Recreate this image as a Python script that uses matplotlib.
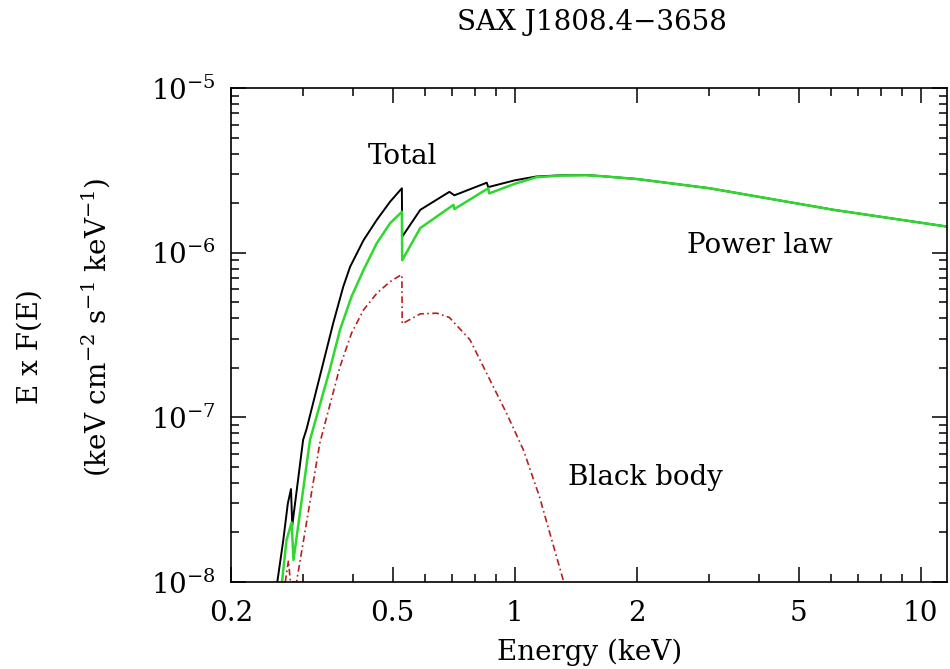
import matplotlib
matplotlib.use("Agg")
import matplotlib.pyplot as plt
from matplotlib.ticker import FixedLocator, LogLocator, NullFormatter

plt.rcParams['font.family'] = ['DejaVu Serif']
plt.rcParams['mathtext.fontset'] = 'dejavuserif'

# values (energy in keV, E x F(E))
total_e = [0.260, 0.269, 0.276, 0.281, 0.283, 0.301, 0.307, 0.334, 0.357, 0.378,
           0.393, 0.424, 0.457, 0.493, 0.527, 0.528, 0.585, 0.690, 0.710, 0.853,
           0.860, 1.00, 1.13, 1.30, 1.50, 1.62, 2.0, 3.02, 6.1, 11.6]
total_f = [1.0e-8, 1.8e-8, 3.0e-8, 3.67e-8, 2.2e-8, 7.3e-8, 8.5e-8, 1.94e-7, 3.73e-7, 6.22e-7,
           8.22e-7, 1.19e-6, 1.58e-6, 2.04e-6, 2.46e-6, 1.25e-6, 1.82e-6, 2.34e-6, 2.23e-6, 2.66e-6,
           2.50e-6, 2.75e-6, 2.90e-6, 2.95e-6, 2.96e-6, 2.92e-6, 2.80e-6, 2.46e-6, 1.82e-6, 1.44e-6]

pl_e = [0.267, 0.274, 0.282, 0.285, 0.313, 0.350, 0.371, 0.396, 0.424, 0.457,
        0.493, 0.527, 0.528, 0.585, 0.706, 0.710, 0.860, 0.865, 1.00, 1.13,
        1.30, 1.50, 1.62, 2.0, 3.02, 6.1, 11.6]
pl_f = [1.0e-8, 1.8e-8, 2.3e-8, 1.36e-8, 7.3e-8, 1.94e-7, 3.4e-7, 5.4e-7, 7.85e-7, 1.14e-6,
        1.51e-6, 1.77e-6, 9.0e-7, 1.41e-6, 1.95e-6, 1.84e-6, 2.46e-6, 2.29e-6, 2.62e-6, 2.87e-6,
        2.94e-6, 2.95e-6, 2.92e-6, 2.80e-6, 2.46e-6, 1.82e-6, 1.44e-6]

bb_e = [0.272, 0.277, 0.280, 0.290, 0.331, 0.371, 0.396, 0.424, 0.457, 0.493,
        0.520, 0.527, 0.528, 0.585, 0.643, 0.690, 0.776, 0.860, 0.954, 1.05,
        1.15, 1.32]
bb_f = [1.0e-8, 1.35e-8, 1.0e-8, 1.0e-8, 7.0e-8, 2.03e-7, 3.24e-7, 4.49e-7, 5.66e-7, 6.67e-7,
        7.23e-7, 7.33e-7, 3.70e-7, 4.25e-7, 4.29e-7, 4.04e-7, 2.95e-7, 1.77e-7, 1.06e-7, 6.34e-8,
        3.3e-8, 1.0e-8]

x_ticks = [0.2, 0.5, 1, 2, 5, 10]
x_labels = ['0.2', '0.5', '1', '2', '5', '10']
y_ticks = [1e-8, 1e-7, 1e-6, 1e-5]
y_labels = [r'$10^{-8}$', r'$10^{-7}$', r'$10^{-6}$', r'$10^{-5}$']

fig = plt.figure(figsize=(9.5, 6.69), dpi=100)
ax = fig.add_axes([0.2432, 0.130, 0.7536, 0.7385])

ax.plot(total_e, total_f, color='black', lw=1.4)
ax.plot(pl_e, pl_f, color='#2fd82f', lw=1.8)
ax.plot(bb_e, bb_f, color='#b82020', lw=1.2, ls=(0, (4, 2, 1, 2)))

ax.set_xscale('log')
ax.set_yscale('log')
ax.set_xlim(0.2, 11.6)
ax.set_ylim(1e-8, 1e-5)

ax.xaxis.set_major_locator(FixedLocator(x_ticks))
ax.set_xticklabels(x_labels)
ax.xaxis.set_minor_locator(LogLocator(base=10, subs=range(1, 10)))
ax.xaxis.set_minor_formatter(NullFormatter())
ax.yaxis.set_major_locator(FixedLocator(y_ticks))
ax.set_yticklabels(y_labels)
ax.yaxis.set_minor_locator(LogLocator(base=10, subs=range(2, 10)))
ax.yaxis.set_minor_formatter(NullFormatter())

ax.tick_params(which='both', direction='in', top=True, right=True, width=1.1, labelsize=20)
ax.tick_params(which='major', length=11)
ax.tick_params(which='minor', length=6)
ax.tick_params(axis='x', which='major', pad=13)
ax.tick_params(axis='y', which='major', pad=11)
for s in ax.spines.values():
    s.set_linewidth(1.2)

ax.text(0.53, 3.81e-6, 'Total', fontsize=20, ha='center', va='center')
ax.text(4.02, 1.11e-6, 'Power law', fontsize=20, ha='center', va='center')
ax.text(2.1, 4.29e-8, 'Black body', fontsize=20, ha='center', va='center')

fig.text(592 / 950, 1 - 22 / 669, 'SAX J1808.4\u22123658', fontsize=20, ha='center', va='center')
fig.text(590 / 950, 1 - 652 / 669, 'Energy (keV)', fontsize=20, ha='center', va='center')
fig.text(30 / 950, 1 - 347 / 669, 'E x F(E)', fontsize=20, ha='center', va='center', rotation=90)
fig.text(96 / 950, 1 - 327 / 669, r'(keV cm$^{-2}$ s$^{-1}$ keV$^{-1}$)', fontsize=20,
         ha='center', va='center', rotation=90)

fig.savefig('out.png', dpi=100)
